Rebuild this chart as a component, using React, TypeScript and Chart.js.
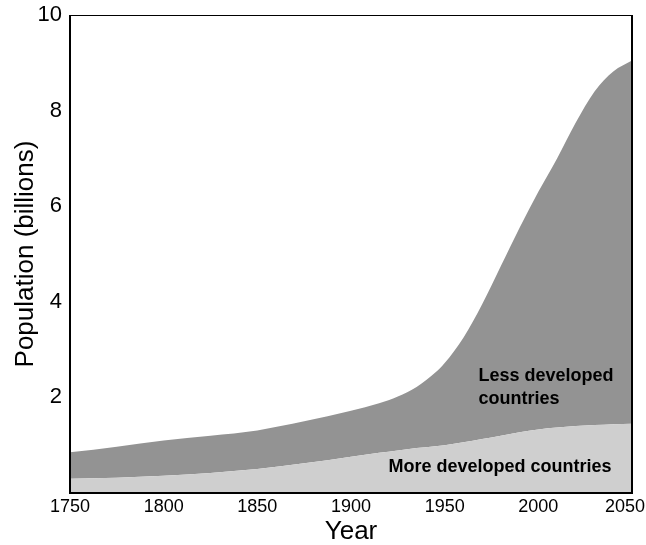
import React, { useEffect, useRef } from "react";
import { Chart, registerables } from "chart.js";

Chart.register(...registerables);

const years = [1750, 1775, 1800, 1825, 1850, 1875, 1900, 1915, 1925, 1935, 1945, 1950, 1960, 1970, 1980, 1990, 2000, 2010, 2020, 2030, 2040, 2050];
const worldTotal = [0.85, 0.97, 1.1, 1.2, 1.31, 1.5, 1.72, 1.88, 2.02, 2.22, 2.52, 2.72, 3.25, 3.95, 4.75, 5.55, 6.3, 7.0, 7.75, 8.4, 8.82, 9.05];
const moreDeveloped = [0.3, 0.32, 0.36, 0.42, 0.5, 0.62, 0.76, 0.84, 0.89, 0.94, 0.98, 1.0, 1.06, 1.13, 1.2, 1.27, 1.33, 1.37, 1.4, 1.42, 1.44, 1.45];

const yTickValues = [2, 4, 6, 8, 10];

const labelTexts = ["Less developed", "countries", "More developed countries"];
const labelYears = [1968, 1968, 1920];
const labelValues = [2.45, 1.97, 0.55];

const FONT = "'Liberation Sans', Arial, sans-serif";

export default function App() {
  const ref = useRef<HTMLCanvasElement | null>(null);

  useEffect(() => {
    document.body.style.margin = "0";
    const canvas = ref.current;
    if (!canvas) return;

    const framePlugin = {
      id: "frame",
      afterDraw(chart: any) {
        const { ctx, chartArea, width } = chart;
        const { left, right, top, bottom } = chartArea;
        ctx.save();
        ctx.strokeStyle = "#000";
        ctx.lineWidth = 1;
        ctx.beginPath();
        ctx.moveTo(left, top + 0.5);
        ctx.lineTo(right, top + 0.5);
        ctx.stroke();
        ctx.lineWidth = 2;
        ctx.beginPath();
        ctx.moveTo(left, top);
        ctx.lineTo(left, bottom);
        ctx.lineTo(right, bottom);
        ctx.lineTo(right, top);
        ctx.stroke();
        const xs = chart.scales.x;
        const ys = chart.scales.y;
        ctx.fillStyle = "#000";
        ctx.font = `18px ${FONT}`;
        ctx.textAlign = "center";
        ctx.textBaseline = "top";
        for (const t of xs.ticks) {
          const txt = String(t.value);
          const w = ctx.measureText(txt).width;
          let px = xs.getPixelForValue(t.value);
          px = Math.min(px, width - w / 2 - 1);
          ctx.fillText(txt, px, bottom + 5);
        }
        ctx.font = `bold 18px ${FONT}`;
        ctx.textAlign = "left";
        ctx.textBaseline = "middle";
        for (let i = 0; i < labelTexts.length; i++) {
          ctx.fillText(labelTexts[i], xs.getPixelForValue(labelYears[i]), ys.getPixelForValue(labelValues[i]));
        }
        ctx.restore();
      },
    };

    const chart = new Chart(canvas, {
      type: "line",
      data: {
        datasets: [
          {
            label: "More developed countries",
            data: years.map((y, i) => ({ x: y, y: moreDeveloped[i] })),
            fill: "origin",
            backgroundColor: "#cfcfcf",
            borderWidth: 0,
            pointRadius: 0,
            cubicInterpolationMode: "monotone",
          },
          {
            label: "Less developed countries",
            data: years.map((y, i) => ({ x: y, y: worldTotal[i] })),
            fill: "-1",
            backgroundColor: "#939393",
            borderWidth: 0,
            pointRadius: 0,
            cubicInterpolationMode: "monotone",
          },
        ],
      },
      options: {
        animation: false,
        responsive: false,
        maintainAspectRatio: false,
        layout: { padding: { top: 15, right: 14, left: 0, bottom: 0 } },
        plugins: { legend: { display: false }, tooltip: { enabled: false } },
        scales: {
          x: {
            type: "linear",
            min: 1750,
            max: 2050,
            grid: { display: false, drawTicks: false },
            border: { display: false },
            ticks: { stepSize: 50, display: false },
            title: {
              display: true,
              text: "Year",
              color: "#000",
              font: { family: FONT, size: 26, lineHeight: 1 },
              padding: { top: 0, bottom: 0 },
            },
            afterFit: (s: any) => {
              s.height = 52;
              s.paddingLeft = 0;
              s.paddingRight = 0;
            },
          },
          y: {
            type: "linear",
            min: 0,
            max: 10,
            grid: { display: false, drawTicks: false },
            border: { display: false },
            afterBuildTicks: (s: any) => {
              s.ticks = yTickValues.map((v) => ({ value: v }));
            },
            ticks: {
              padding: 8,
              color: "#000",
              font: { family: FONT, size: 22 },
              callback: (v: any) => String(v),
            },
            title: {
              display: true,
              text: "Population (billions)",
              color: "#000",
              font: { family: FONT, size: 26, lineHeight: 1 },
              padding: { top: 13, bottom: 0 },
            },
            afterFit: (s: any) => {
              s.width = 70;
              s.paddingTop = 0;
              s.paddingBottom = 0;
            },
          },
        },
      },
      plugins: [framePlugin],
    });

    return () => chart.destroy();
  }, []);

  return (
    <div style={{ width: 646, height: 545 }}>
      <canvas ref={ref} width={646} height={545} style={{ width: 646, height: 545, display: "block" }} />
    </div>
  );
}
